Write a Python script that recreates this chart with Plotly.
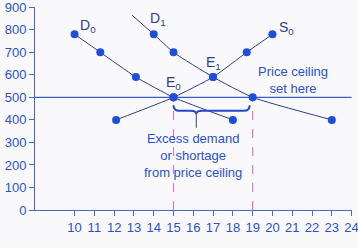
import plotly.graph_objects as go

# ---- data ----
price = [780, 700, 590, 500, 400]
d0_qty = [10, 11.3, 13.1, 15, 18]
s0_qty = [20, 18.7, 17, 15, 12.1]
d1_qty = [14, 15, 17, 19, 23]
d1_ext_qty = 12.9   # D1 line continues above its top point
d1_ext_price = 865

ceiling = 500
qd_at_ceiling = 19
qs_at_ceiling = 15
brace_tip_x = 16.15

x_ticks = list(range(10, 25))
y_ticks = list(range(0, 1000, 100))

dot_color = "#1d4fdc"
curve_color = "#2c3f8e"
text_color = "#2a52c8"
axis_color = "#4a6ac2"
FONT = "Liberation Sans, Arial, sans-serif"

fig = go.Figure()

# curves
fig.add_trace(go.Scatter(x=d0_qty, y=price, mode="lines",
                         line=dict(color=curve_color, width=1, shape="spline", smoothing=0.5),
                         hoverinfo="skip", showlegend=False))
fig.add_trace(go.Scatter(x=s0_qty, y=price, mode="lines",
                         line=dict(color=curve_color, width=1, shape="spline", smoothing=0.5),
                         hoverinfo="skip", showlegend=False))
fig.add_trace(go.Scatter(x=[d1_ext_qty] + d1_qty, y=[d1_ext_price] + price, mode="lines",
                         line=dict(color=curve_color, width=1, shape="spline", smoothing=0.5),
                         hoverinfo="skip", showlegend=False))

# price ceiling line
fig.add_trace(go.Scatter(x=[8, 24], y=[ceiling, ceiling], mode="lines",
                         line=dict(color="#3a5cc8", width=1.3), hoverinfo="skip", showlegend=False))

# dashed verticals
for q in [qs_at_ceiling, qd_at_ceiling]:
    fig.add_trace(go.Scatter(x=[q, q], y=[0, ceiling], mode="lines",
                             line=dict(color="#d77ccf", width=1.2, dash="dash"),
                             hoverinfo="skip", showlegend=False))

# markers
for xs in [d0_qty, s0_qty, d1_qty]:
    fig.add_trace(go.Scatter(x=xs, y=price, mode="markers",
                             marker=dict(color=dot_color, size=8),
                             showlegend=False))

# brace
x0, x1, tip = qs_at_ceiling, qd_at_ceiling - 0.15, brace_tip_x
yt, ym, yp = 465, 440, 425
r = 0.3
path = (f"M {x0},{yt} Q {x0},{ym} {x0+r},{ym} L {tip-r},{ym} Q {tip},{ym} {tip},{yp} "
        f"Q {tip},{ym} {tip+r},{ym} L {x1-r},{ym} Q {x1},{ym} {x1},{yt}")
fig.add_shape(type="path", path=path, xref="x", yref="y",
              line=dict(color="#2448c8", width=2))
fig.add_shape(type="line", x0=tip, x1=tip, y0=yp, y1=365, xref="x", yref="y",
              line=dict(color="#2c3f8e", width=1))

font_lbl = dict(family=FONT, size=14, color=curve_color)
labels = [("D<sub>0</sub>", 10.7, 815), ("D<sub>1</sub>", 14.2, 848),
          ("S<sub>0</sub>", 20.7, 808), ("E<sub>0</sub>", 15.0, 565),
          ("E<sub>1</sub>", 17.0, 653)]
for t, x, y in labels:
    fig.add_annotation(x=x, y=y, text=t, showarrow=False, font=font_lbl,
                       xanchor="center", yanchor="middle")

font_txt = dict(family=FONT, size=13, color=text_color)
fig.add_annotation(x=16.0, y=244, text="Excess demand<br>or shortage<br>from price ceiling",
                   showarrow=False, font=font_txt, xanchor="center", yanchor="middle")
fig.add_annotation(x=21.06, y=576, text="Price ceiling<br>set here",
                   showarrow=False, font=font_txt, xanchor="center", yanchor="middle")

# faint, mostly cropped axis title at the bottom edge
fig.add_annotation(xref="x", yref="paper", x=16.6, y=-0.17, yanchor="top",
                   text="Quantity (thousands of rental units)", showarrow=False,
                   font=dict(family=FONT, size=12, color="#e0e2ea"))

fig.update_layout(
    width=358, height=248,
    margin=dict(l=35, r=6, t=7, b=38, autoexpand=False),
    paper_bgcolor="#f9f9fb", plot_bgcolor="#f9f9fb",
    xaxis=dict(range=[8, 24.02], tickvals=x_ticks, ticks="outside", ticklen=5,
               tickcolor=axis_color, showline=True, linecolor=axis_color, linewidth=1,
               showgrid=False, zeroline=False, ticklabeloverflow="allow", automargin=False,
               tickfont=dict(family=FONT, size=13, color=text_color)),
    yaxis=dict(range=[0, 901], tickvals=y_ticks, ticks="outside", ticklen=5,
               tickcolor=axis_color, showline=True, linecolor=axis_color, linewidth=1,
               showgrid=False, zeroline=False, ticklabeloverflow="allow", automargin=False,
               tickfont=dict(family=FONT, size=13, color=text_color)),
)

fig.write_html("out.html")
